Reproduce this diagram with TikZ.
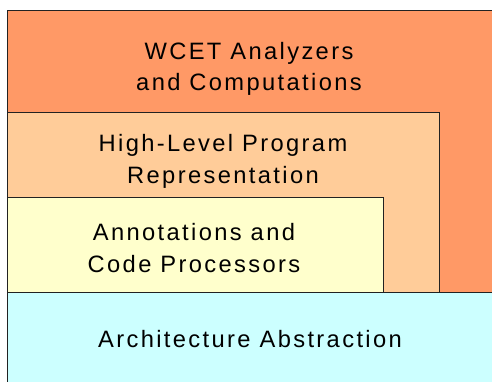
\documentclass[tikz,border=0pt]{standalone}
\usepackage{fontspec}
\setmainfont{Liberation Sans}[LetterSpace=10]
\usetikzlibrary{positioning}
\definecolor{wcetorange}{HTML}{FF9966}
\definecolor{hlpeach}{HTML}{FFCC99}
\definecolor{annoyellow}{HTML}{FFFFCC}
\definecolor{archcyan}{HTML}{CCFFFF}
\definecolor{layerline}{HTML}{222222}
\tikzset{
  layer/.style={draw=layerline, line width=0.8pt},
  layertext/.style={font=\fontsize{23.7}{31.5}\selectfont, align=center, inner sep=0pt}
}
\begin{document}
\begin{tikzpicture}[x=1pt, y=-1pt]
    \useasboundingbox (0,0) rectangle (492,381);
    \fill[white] (0,0) rectangle (492,381);
    % --- Layers ---
    \draw[layer, fill=wcetorange]  (7,10) rectangle (496,292);
    \draw[layer, fill=hlpeach]     (7,112) rectangle (439,292);
    \draw[layer, fill=annoyellow]  (7,197) rectangle (383,292);
    \draw[layer, fill=archcyan]    (7,292) rectangle (496,386);
    % --- Labels ---
    \node[layertext] (wcet) at (249,69)  {WCET Analyzers\\and Computations};
    \node[layertext] (hlpr) at (223,161.5) {High-Level Program\\Representation};
    \node[layertext] (anno) at (194,248) {Annotations and\\Code Processors};
    \node[layertext, anchor=base] (arch) at (250,347) {Architecture Abstraction};
\end{tikzpicture}
\end{document}
